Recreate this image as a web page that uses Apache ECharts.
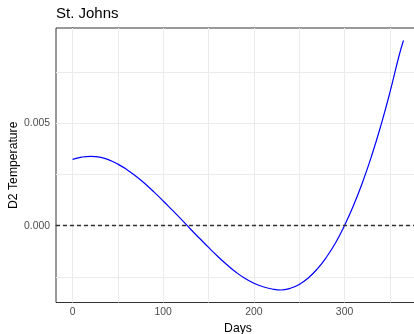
<!DOCTYPE html>
<html>
<head>
<meta charset="utf-8">
<script src="https://cdn.jsdelivr.net/npm/echarts@6/dist/echarts.min.js"></script>
<style>
  html, body { margin: 0; padding: 0; background: #fff; }
  #chart { width: 414px; height: 334px; }
</style>
</head>
<body>
<div id="chart"></div>
<script>
// second derivative of smoothed temperature, St. Johns
var days = [0, 10, 20, 30, 40, 50, 60, 70, 80, 90, 100, 110, 120, 130, 140, 150, 160, 170, 180, 190,
  200, 210, 220, 230, 240, 250, 260, 270, 280, 290, 300, 310, 320, 330, 340, 350, 360, 365];
var d2 = [0.00324, 0.00335, 0.00339, 0.00335, 0.00322, 0.00301, 0.00274, 0.00242, 0.00205, 0.00164,
  0.00121, 0.00076, 0.00031, -0.00016, -0.00061, -0.00106, -0.00149, -0.00189, -0.00226, -0.00257,
  -0.00281, -0.00298, -0.00309, -0.00314, -0.00306, -0.00287, -0.00255, -0.00211, -0.00154, -0.00084,
  0.00001, 0.00100, 0.00214, 0.00343, 0.00488, 0.00650, 0.00828, 0.00905];

var xTicks = [0, 100, 200, 300];
var xGrid = [0, 50, 100, 150, 200, 250, 300, 350];
var yTicks = [0, 0.005];
var yGrid = [-0.0025, 0, 0.0025, 0.005, 0.0075];

var xMin = -18.25, xMax = 383.25;
var yMin = -0.00375, yMax = 0.00966;

var font = 'Liberation Sans, Arial, sans-serif';

var lineData = days.map(function (d, i) { return [d, d2[i]]; });

var gridLines = xGrid.map(function (v) { return [{ coord: [v, yMin] }, { coord: [v, yMax] }]; })
  .concat(yGrid.map(function (v) { return [{ coord: [xMin, v] }, { coord: [xMax, v] }]; }));

var chart = echarts.init(document.getElementById('chart'), null, { renderer: 'canvas' });

chart.setOption({
  animation: false,
  backgroundColor: '#fff',
  title: {
    text: 'St. Johns',
    left: 56,
    top: 6,
    padding: 0,
    textStyle: { fontFamily: font, fontSize: 15, fontWeight: 'normal', color: '#000' }
  },
  grid: {
    left: 56,
    top: 28,
    width: 364,
    height: 274.5,
    containLabel: false,
    outerBoundsMode: 'none',
    show: true,
    borderColor: '#333',
    borderWidth: 1,
    backgroundColor: 'transparent'
  },
  xAxis: {
    type: 'value',
    min: xMin,
    max: xMax,
    name: 'Days',
    nameLocation: 'middle',
    nameGap: 20,
    nameMoveOverlap: false,
    nameTextStyle: { fontFamily: font, fontSize: 12.2, color: '#000' },
    axisLine: { show: true, lineStyle: { color: '#333', width: 1 } },
    axisTick: { show: true, length: 4, customValues: xTicks, lineStyle: { color: '#333' } },
    axisLabel: {
      customValues: xTicks,
      margin: 5,
      fontFamily: font,
      fontSize: 10.4,
      color: '#4d4d4d'
    },
    splitLine: { show: false }
  },
  yAxis: {
    type: 'value',
    min: yMin,
    max: yMax,
    name: 'D2 Temperature',
    nameLocation: 'middle',
    nameGap: 36,
    nameMoveOverlap: false,
    nameRotate: 90,
    nameTextStyle: { fontFamily: font, fontSize: 12.2, color: '#000' },
    axisLine: { show: true, lineStyle: { color: '#333', width: 1 } },
    axisTick: { show: true, length: 4, customValues: yTicks, lineStyle: { color: '#333' } },
    axisLabel: {
      customValues: yTicks,
      margin: 6,
      fontFamily: font,
      fontSize: 10.4,
      color: '#4d4d4d',
      formatter: function (v) { return v.toFixed(3); }
    },
    splitLine: { show: false }
  },
  series: [
    {
      // background grid
      type: 'line',
      data: [],
      silent: true,
      symbol: 'none',
      z: 1,
      markLine: {
        silent: true,
        z: 1,
        symbol: ['none', 'none'],
        label: { show: false },
        emphasis: { disabled: true },
        lineStyle: { color: '#ebebeb', width: 1, type: 'solid' },
        data: gridLines
      }
    },
    {
      type: 'line',
      data: lineData,
      smooth: true,
      symbol: 'none',
      lineStyle: { color: '#0000ff', width: 1.2 },
      z: 3
    },
    {
      type: 'line',
      data: [],
      silent: true,
      symbol: 'none',
      z: 4,
      markLine: {
        silent: true,
        z: 4,
        symbol: ['none', 'none'],
        label: { show: false },
        emphasis: { disabled: true },
        lineStyle: { color: '#333', width: 1.3, type: [4, 3] },
        data: [[{ coord: [xMin, 0] }, { coord: [xMax, 0] }]]
      }
    }
  ]
});
</script>
</body>
</html>
